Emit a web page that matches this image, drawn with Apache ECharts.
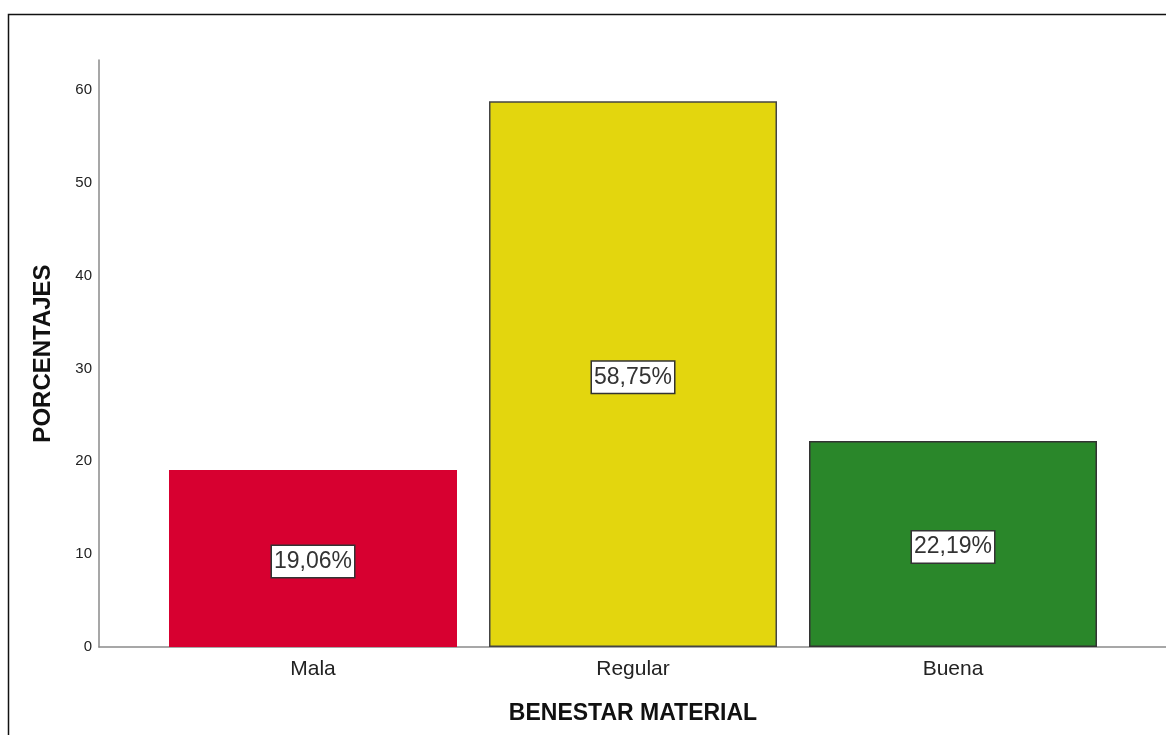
<!DOCTYPE html>
<html>
<head>
<meta charset="utf-8">
<script src="https://cdn.jsdelivr.net/npm/echarts@6/dist/echarts.min.js"></script>
<style>
  html, body { margin: 0; padding: 0; background: #fff; }
  #chart { width: 1166px; height: 735px; }
</style>
</head>
<body>
<div id="chart"></div>
<script>
// datos del gráfico
const categories = ['Mala', 'Regular', 'Buena'];
const porcentajes = [19.06, 58.75, 22.19];
const barColors = ['#D70030', '#E3D60E', '#2A872A'];
const barBorders = ['#D70030', '#444444', '#333333'];
const yTicks = [0, 10, 20, 30, 40, 50, 60];

const FONT = '"Liberation Sans", Arial, sans-serif';

const chart = echarts.init(document.getElementById('chart'), null, { renderer: 'canvas' });

const option = {
  backgroundColor: '#fff',
  animation: false,
  textStyle: { fontFamily: FONT },
  graphic: [{
    type: 'rect',
    left: 6, top: 12,
    shape: { width: 1300, height: 900 },
    style: { fill: 'none', stroke: '#111', lineWidth: 1.5 },
    silent: true
  }],
  grid: [
    // ejes (líneas)
    { left: 99, right: 0, top: 60, bottom: 88 },
    // barras
    { left: 153, right: 53, top: 60, bottom: 88 }
  ],
  xAxis: [
    {
      gridIndex: 0, type: 'value', min: 0, max: 1,
      axisLine: { show: true, lineStyle: { color: '#8a8a8a', width: 1.5 } },
      axisTick: { show: false }, axisLabel: { show: false }, splitLine: { show: false }
    },
    {
      gridIndex: 1, type: 'category', data: categories,
      axisLine: { show: false }, axisTick: { show: false },
      axisLabel: { fontSize: 21, color: '#222', margin: 12, fontFamily: FONT },
      name: 'BENESTAR MATERIAL', nameLocation: 'middle', nameGap: 55,
      nameTextStyle: { fontSize: 23, fontWeight: 'bold', color: '#111', fontFamily: FONT }
    }
  ],
  yAxis: [
    {
      gridIndex: 0, type: 'value', min: 0, max: 63.2, interval: 10,
      axisLine: { show: true, lineStyle: { color: '#8a8a8a', width: 1.5 } },
      axisTick: { show: false }, splitLine: { show: false },
      axisLabel: {
        fontSize: 15, color: '#222', margin: 7, fontFamily: FONT, showMaxLabel: false,
        formatter: v => (yTicks.indexOf(v) >= 0 ? String(v) : '')
      },
      name: 'PORCENTAJES', nameLocation: 'middle', nameGap: 44, nameRotate: 90,
      nameTextStyle: { fontSize: 24, fontWeight: 'bold', color: '#111', fontFamily: FONT }
    },
    {
      gridIndex: 1, type: 'value', min: 0, max: 63.2, show: false
    }
  ],
  series: [{
    type: 'bar',
    xAxisIndex: 1, yAxisIndex: 1,
    barWidth: '90%',
    data: porcentajes.map((v, i) => ({
      value: v,
      itemStyle: { color: barColors[i], borderColor: barBorders[i], borderWidth: 1.5 }
    })),
    label: {
      show: true, position: 'inside', offset: [0, 3],
      formatter: p => p.value.toFixed(2).replace('.', ',') + '%',
      fontSize: 23, color: '#333', fontFamily: FONT,
      backgroundColor: '#fff', borderColor: '#333', borderWidth: 1.5,
      padding: [5, 2, 3, 2]
    }
  }]
};

chart.setOption(option);
</script>
</body>
</html>
